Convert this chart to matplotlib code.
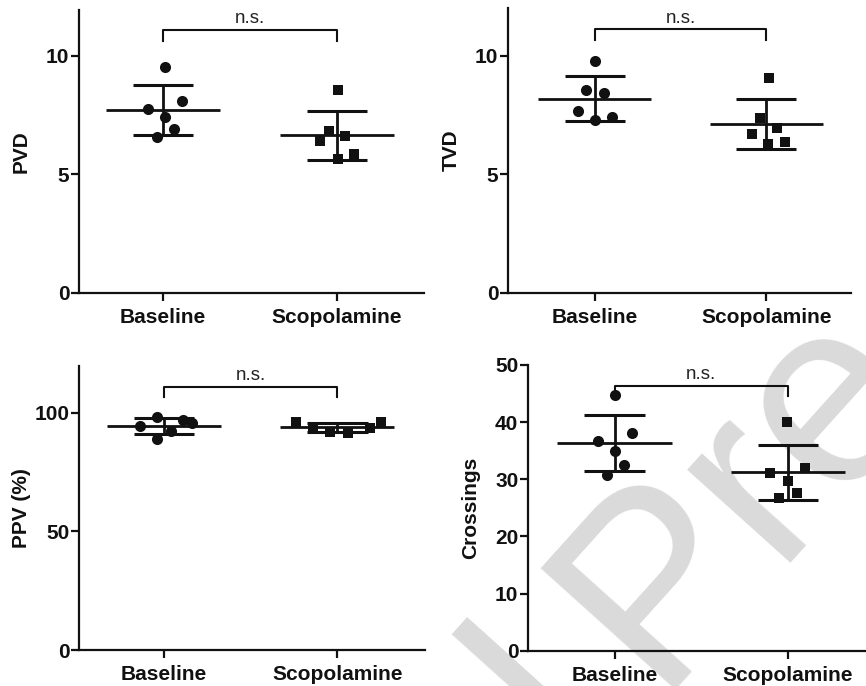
import numpy as np
import matplotlib
matplotlib.use("Agg")
import matplotlib.pyplot as plt

plt.rcParams['font.family'] = ['Liberation Sans', 'DejaVu Sans']

# ---------------- data ----------------
groups = ["Baseline", "Scopolamine"]

pvd_baseline = [9.51, 8.08, 7.77, 7.42, 6.90, 6.55]
pvd_scopolamine = [8.54, 6.81, 6.60, 6.39, 5.87, 5.66]

tvd_baseline = [9.78, 8.55, 8.41, 7.67, 7.29, 7.43]
tvd_scopolamine = [9.07, 7.38, 6.96, 6.68, 6.35, 6.26]

ppv_baseline = [98.0, 96.8, 95.8, 94.5, 92.5, 89.0]
ppv_scopolamine = [96.2, 96.0, 94.0, 93.5, 91.8, 91.5]

crossings_baseline = [44.76, 38.05, 36.76, 35.0, 32.5, 30.75]
crossings_scopolamine = [40.08, 31.9, 31.16, 29.76, 27.55, 26.67]

# horizontal scatter offsets of the points (category units)
pvd_base_jit = [0.011, 0.107, -0.084, 0.011, 0.063, -0.033]
pvd_scop_jit = [0.008, -0.044, 0.046, -0.098, 0.10, 0.003]
tvd_base_jit = [0.002, -0.051, 0.054, -0.096, 0.002, 0.099]
tvd_scop_jit = [0.016, -0.037, 0.06, -0.085, 0.109, 0.012]
ppv_base_jit = [-0.04, 0.11, 0.16, -0.14, 0.04, -0.04]
ppv_scop_jit = [-0.24, 0.25, -0.14, 0.19, -0.04, 0.06]
cro_base_jit = [0.002, 0.10, -0.095, 0.002, 0.054, -0.046]
cro_scop_jit = [-0.008, 0.098, -0.104, 0.002, 0.054, -0.05]

W, H = 866, 686
fig = plt.figure(figsize=(W / 100, H / 100), dpi=100)

# watermark ("Journal Pre-proof"), light grey, behind the plots
ang = 48
wm_kw = dict(color='#dadada', fontsize=190, rotation=ang, rotation_mode='anchor',
             va='baseline', zorder=-5, family='Liberation Sans')
ox, oy = 655, 690
fig.text(ox / W, 1 - oy / H, "Pre-proof", ha='left', **wm_kw)
g = 51
bx, by = np.cos(np.radians(ang)), -np.sin(np.radians(ang))
fig.text((ox - g * bx) / W, 1 - (oy - g * by) / H, "Journal", ha='right', **wm_kw)


def px_rect(l, r, b, t):
    return [l / W, 1 - b / H, (r - l) / W, (b - t) / H]


panels = [
    dict(rect=px_rect(79, 424, 292.7, 10), ylim=(0, 11.93), yticks=[0, 5, 10],
         ylabel="PVD", xlim=(-0.483, 1.5), data=(pvd_baseline, pvd_scopolamine),
         jit=(pvd_base_jit, pvd_scop_jit), br=(11.08, 10.63), lblx=-0.169),
    dict(rect=px_rect(508, 851.3, 292.7, 8.3), ylim=(0, 12.0), yticks=[0, 5, 10],
         ylabel="TVD", xlim=(-0.505, 1.495), data=(tvd_baseline, tvd_scopolamine),
         jit=(tvd_base_jit, tvd_scop_jit), br=(11.11, 10.66), lblx=-0.166),
    dict(rect=px_rect(79, 425, 650, 366), ylim=(0, 119.7), yticks=[0, 50, 100],
         ylabel="PPV (%)", xlim=(-0.49, 1.506), data=(ppv_baseline, ppv_scopolamine),
         jit=(ppv_base_jit, ppv_scop_jit), br=(111.0, 106.5), lblx=-0.166),
    dict(rect=px_rect(528, 874.6, 650.7, 365), ylim=(0, 50), yticks=[0, 10, 20, 30, 40, 50],
         ylabel="Crossings", xlim=(-0.5, 1.5), data=(crossings_baseline, crossings_scopolamine),
         jit=(cro_base_jit, cro_scop_jit), br=(46.3, 44.5), lblx=-0.165),
]

markers = ['o', 's']
msizes = [8.0, 7.8]
ink = '#111111'
for p in panels:
    ax = fig.add_axes(p['rect'])
    ax.set_facecolor('none')
    for s in ['top', 'right']:
        ax.spines[s].set_visible(False)
    for s in ['left', 'bottom']:
        ax.spines[s].set_linewidth(1.6)
        ax.spines[s].set_color(ink)
    ax.set_xlim(*p['xlim'])
    ax.set_ylim(*p['ylim'])
    ax.set_yticks(p['yticks'])
    ax.set_xticks([0, 1])
    ax.set_xticklabels(groups)
    ax.tick_params(axis='both', length=6, width=1.6, color=ink,
                   labelsize=15, labelcolor=ink)
    ax.tick_params(axis='y', pad=1)
    ax.tick_params(axis='x', pad=5)
    for lab in ax.get_xticklabels() + ax.get_yticklabels():
        lab.set_fontweight('bold')
    ax.set_ylabel(p['ylabel'], fontsize=15, fontweight='bold', color=ink, va='center')
    ax.yaxis.set_label_coords(p['lblx'], 0.5)

    for i, (vals, jit) in enumerate(zip(p['data'], p['jit'])):
        vals = np.asarray(vals, float)
        m = vals.mean()
        sd = vals.std(ddof=1)
        ax.plot(i + np.asarray(jit), vals, linestyle='none', marker=markers[i],
                ms=msizes[i], mew=0, color=ink, zorder=3, clip_on=False)
        ax.plot([i - 0.33, i + 0.33], [m, m], color=ink, lw=2, zorder=4,
                solid_capstyle='butt')
        ax.plot([i, i], [m - sd, m + sd], color=ink, lw=2, zorder=4)
        for yv in (m - sd, m + sd):
            ax.plot([i - 0.175, i + 0.175], [yv, yv], color=ink, lw=2.2,
                    zorder=4, solid_capstyle='butt')

    top, drop = p['br']
    ax.plot([0, 0, 1, 1], [drop, top, top, drop], color=ink, lw=1.5,
            clip_on=False, zorder=4)
    ax.annotate("n.s.", xy=(0.5, top), xytext=(0, 2), textcoords='offset points',
                ha='center', va='bottom', fontsize=13.5, color='#222222',
                annotation_clip=False)

fig.savefig("out.png", dpi=100)
